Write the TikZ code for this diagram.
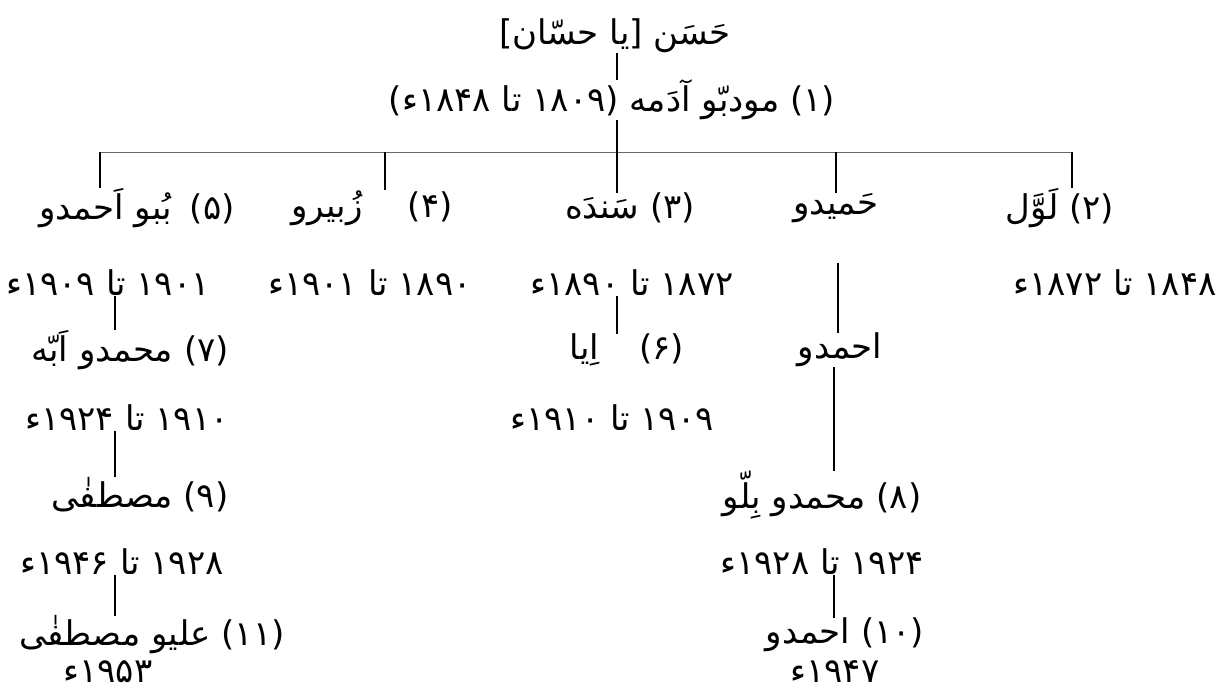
\documentclass[tikz,border=0pt]{standalone}
\usepackage{fontspec}
\newfontfamily\ar[Script=Arabic,Language=Urdu]{DejaVu Sans}
\TeXXeTstate=1
\newcommand{\gap}[1]{\hspace{#1pt}}
\begin{document}
\begin{tikzpicture}[x=1pt,y=-1pt,
  lab/.style={inner sep=0pt, font=\ar\fontsize{34}{38}\selectfont},
  ln/.style={line width=1.6pt},
  barln/.style={line width=0.8pt, black!60}]
\useasboundingbox (0,0) rectangle (1225,689);
% columns
\coordinate (cM) at (617,152);
\coordinate (cA) at (100,152);
\coordinate (cB) at (385,152);
\coordinate (cD) at (836,152);
\coordinate (cE) at (1072,152);
\coordinate (cA2) at (115,0);
\coordinate (cD2) at (838,0);
\coordinate (cD3) at (834,0);
% nodes
\node[lab] (title) at (615,36) {\beginR حَسَن [یا حسّان]\endR};
\node[lab] (n1) at (612,100) {\beginR (۱) مودبّو آدَمه ^^^^200f(۱۸۰۹ تا ۱۸۴۸ء)\endR};
\node[lab] (n5) at (137,208) {\beginR (۵)\gap{18}بُبو اَحمدو\endR};
\node[lab] (n4) at (372,208) {\beginR (۴)\gap{45}زُبیرو\endR};
\node[lab] (n3) at (630,208) {\beginR (۳) سَندَه\endR};
\node[lab] (hm) at (836,208) {\beginR حَمیدو\endR};
\node[lab] (n2) at (1060,208) {\beginR (۲) لَوَّل\endR};
\node[lab] (d5) at (108,283) {\beginR ۱۹۰۱ تا ۱۹۰۹ء\endR};
\node[lab] (d4) at (370,283) {\beginR ۱۸۹۰ تا ۱۹۰۱ء\endR};
\node[lab] (d3) at (632,283) {\beginR ۱۸۷۲ تا ۱۸۹۰ء\endR};
\node[lab] (d2) at (1115,283) {\beginR ۱۸۴۸ تا ۱۸۷۲ء\endR};
\node[lab] (n7) at (130,350) {\beginR (۷) محمدو اَبّه\endR};
\node[lab] (n6) at (627,350) {\beginR (۶)\gap{40}اِیا\endR};
\node[lab] (ah) at (840,350) {\beginR احمدو\endR};
\node[lab] (d7) at (127,418) {\beginR ۱۹۱۰ تا ۱۹۲۴ء\endR};
\node[lab] (d6) at (612,418) {\beginR ۱۹۰۹ تا ۱۹۱۰ء\endR};
\node[lab] (n9) at (140,495) {\beginR (۹) مصطفٰی\endR};
\node[lab] (n8) at (822,495) {\beginR (۸) محمدو بِلّو\endR};
\node[lab] (d9) at (122,562) {\beginR ۱۹۲۸ تا ۱۹۴۶ء\endR};
\node[lab] (d8) at (822,562) {\beginR ۱۹۲۴ تا ۱۹۲۸ء\endR};
\node[lab] (n11) at (152,635) {\beginR (۱۱) علیو مصطفٰی\endR};
\node[lab] (n10) at (845,635) {\beginR (۱۰) احمدو\endR};
\node[lab] (d11) at (108,672) {\beginR ۱۹۵۳ء\endR};
\node[lab] (d10) at (835,672) {\beginR ۱۹۴۷ء\endR};
% connectors
\draw[ln] (title.south -| cM) -- (n1.north -| cM);
\draw[ln] (n1.south -| cM) -- (cM);
\draw[barln] (cA) -- (cE);
\draw[ln] (cA) -- (n5.north -| cA);
\draw[ln] (cB) -- (n4.north -| cB);
\draw[ln] (cM) -- (n3.north -| cM);
\draw[ln] (cD) -- (hm.north -| cD);
\draw[ln] (cE) -- (n2.north -| cE);
\draw[ln] (d5.south -| cA2) -- (n7.north -| cA2);
\draw[ln] (d3.south -| cM) -- (n6.north -| cM);
\draw[ln] ([yshift=-40pt]hm.south -| cD2) -- (ah.north -| cD2);
\draw[ln] (ah.south -| cD3) -- (n8.north -| cD3);
\draw[ln] (d7.south -| cA2) -- (n9.north -| cA2);
\draw[ln] (d9.south -| cA2) -- (n11.north -| cA2);
\draw[ln] (d8.south -| cD3) -- (n10.north -| cD3);
\end{tikzpicture}
\end{document}
